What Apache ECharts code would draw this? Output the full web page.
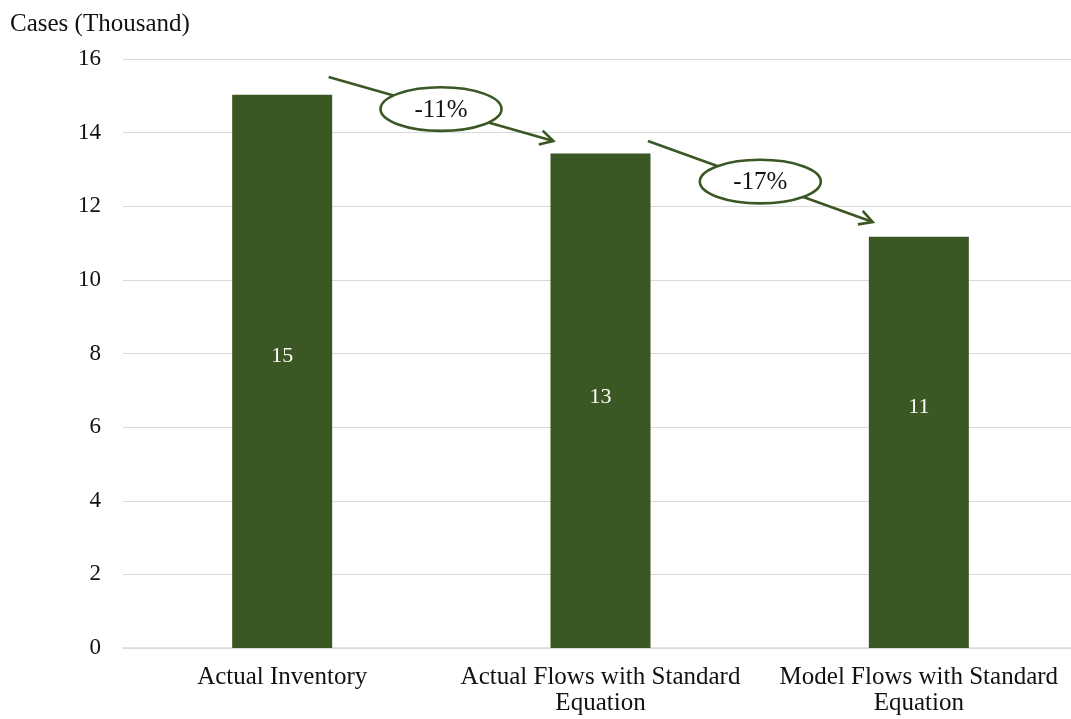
<!DOCTYPE html>
<html>
<head>
<meta charset="utf-8">
<title>Cases (Thousand)</title>
<script src="https://cdn.jsdelivr.net/npm/echarts@6/dist/echarts.min.js"></script>
<style>
  html, body { margin: 0; padding: 0; background: #ffffff; overflow: hidden; }
  /* the plot runs slightly past the right edge of the window */
  #chart { width: 1078px; height: 719px; }
</style>
</head>
<body>
<div id="chart"></div>
<script>
// Inventory cases by scenario, in thousands
const categories = [
  'Actual Inventory',
  'Actual Flows with Standard\nEquation',
  'Model Flows with Standard\nEquation'
];
const cases = [15.03, 13.43, 11.17];

// Value axis ticks
const yMin = 0;
const yMax = 16;
const yStep = 2;

// Change arrows between neighbouring bars: [fromX, fromY, toX, toY] in axis units
const arrowFrom = [[0.146, 15.51], [1.149, 13.77]];
const arrowTo = [[0.852, 13.77], [1.855, 11.57]];

const GREEN = '#3a5724';
const FONT = '"Liberation Serif", "Times New Roman", serif';
const TEXT = '#111111';

// Percent change from each bar to the next
const changeLabels = arrowFrom.map((_, i) =>
  Math.round((cases[i + 1] / cases[i] - 1) * 100) + '%'
);

const arrowRows = arrowFrom.map((f, i) => [f[0], f[1], arrowTo[i][0], arrowTo[i][1]]);

// Vertical nudge of the value label inside each bar
const labelLift = [-15, -4, -35];

const chart = echarts.init(document.getElementById('chart'), null, { renderer: 'canvas' });

function renderArrow(params, api) {
  const p0 = api.coord([api.value(0), api.value(1)]);
  const p1 = api.coord([api.value(2), api.value(3)]);
  const mx = (p0[0] + p1[0]) / 2;
  const my = (p0[1] + p1[1]) / 2;
  const a = Math.atan2(p1[1] - p0[1], p1[0] - p0[0]);
  const len = 15;
  const spread = 0.5;
  const w1 = [p1[0] - len * Math.cos(a - spread), p1[1] - len * Math.sin(a - spread)];
  const w2 = [p1[0] - len * Math.cos(a + spread), p1[1] - len * Math.sin(a + spread)];
  const stroke = { stroke: GREEN, lineWidth: 2.6, fill: null };
  return {
    type: 'group',
    children: [
      { type: 'line', shape: { x1: p0[0], y1: p0[1], x2: p1[0], y2: p1[1] }, style: stroke },
      { type: 'polyline', shape: { points: [w1, p1, w2] }, style: stroke },
      { type: 'ellipse', shape: { cx: mx, cy: my, rx: 60.5, ry: 21.8 },
        style: { stroke: GREEN, lineWidth: 2.6, fill: '#ffffff' } },
      { type: 'text', x: mx, y: my + 1,
        style: { text: changeLabels[params.dataIndex], align: 'center', verticalAlign: 'middle',
                 fontSize: 25, fontFamily: FONT, fill: TEXT } }
    ]
  };
}

chart.setOption({
  animation: false,
  backgroundColor: '#ffffff',
  title: {
    text: 'Cases (Thousand)',
    left: 5,
    top: 7,
    textStyle: { fontFamily: FONT, fontSize: 25, fontWeight: 'normal', color: TEXT }
  },
  grid: { left: 123, right: 0, top: 59, bottom: 71, containLabel: false },
  xAxis: [
    {
      type: 'category',
      data: categories,
      axisTick: { show: false },
      axisLine: { lineStyle: { color: '#d9d9d9', width: 1.5 } },
      axisLabel: { color: TEXT, fontFamily: FONT, fontSize: 25, lineHeight: 26, margin: 16, interval: 0 }
    },
    { type: 'value', min: -0.5, max: 2.5, show: false }
  ],
  yAxis: {
    type: 'value',
    min: yMin,
    max: yMax,
    interval: yStep,
    axisLine: { show: false },
    axisTick: { show: false },
    axisLabel: { color: TEXT, fontFamily: FONT, fontSize: 23, margin: 22 },
    splitLine: { lineStyle: { color: '#d9d9d9', width: 1.2 } }
  },
  series: [
    {
      type: 'bar',
      xAxisIndex: 0,
      barWidth: 100,
      itemStyle: { color: GREEN },
      label: {
        show: true,
        position: 'inside',
        color: '#ffffff',
        fontFamily: FONT,
        fontSize: 22,
        formatter: p => String(Math.round(p.value))
      },
      data: cases.map((v, i) => ({ value: v, label: { offset: [0, labelLift[i]] } }))
    },
    {
      type: 'custom',
      xAxisIndex: 1,
      yAxisIndex: 0,
      renderItem: renderArrow,
      data: arrowRows,
      z: 5,
      silent: true
    }
  ]
});
</script>
</body>
</html>
